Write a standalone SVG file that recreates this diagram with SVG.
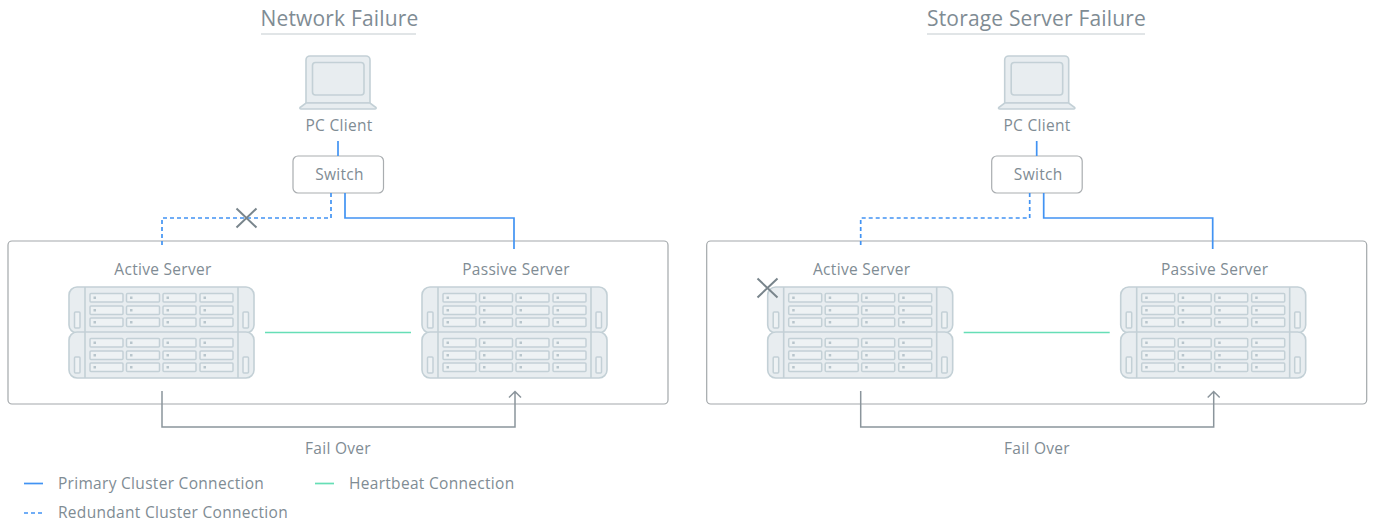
<svg xmlns="http://www.w3.org/2000/svg" xmlns:xlink="http://www.w3.org/1999/xlink" width="1375" height="522" viewBox="0 0 1375 522">
<style>
text{font-family:"Open Sans","Noto Sans",sans-serif;fill:#7f8c94;font-size:15.500px;letter-spacing:.3px}
.title{font-size:21px;letter-spacing:.18px}
.m{text-anchor:middle}
.rule{stroke:#e1e5e7;stroke-width:2;fill:none}
.box{fill:#fff;stroke:#a9adb0;stroke-width:1.2}
.panel{fill:none;stroke:#a3a8ab;stroke-width:1.2}
.hw{fill:#e8edf0;stroke:#c3d0d6;stroke-width:1.6}
.slot{fill:#eef2f4;stroke:#c3d0d6;stroke-width:1.5}
.dot{fill:#b8c5cc}
.p{fill:none;stroke:#4193f3;stroke-width:1.7}
.r{fill:none;stroke:#4193f3;stroke-width:1.7;stroke-dasharray:4 3}
.h{fill:none;stroke:#66deb6;stroke-width:1.7}
.f{fill:none;stroke:#8b959c;stroke-width:1.5}
.x{fill:none;stroke:#79858c;stroke-width:2}
</style>
<defs>
<g id="laptop">
<path class="hw" d="M306 103V60a4 4 0 0 1 4-4h56a4 4 0 0 1 4 4v43z"/>
<rect class="hw" x="312.500" y="62.500" width="51.500" height="32.500" rx="3"/>
<path class="hw" d="M306 103h64l6 4.500q.5 1.500-1 1.500h-74q-1.500 0-1-1.500z"/>
</g>
<g id="row">
<rect class="slot" x="90" y="0" width="33" height="8.500" rx="1"/><rect class="dot" x="93.500" y="3" width="2.500" height="2.500"/>
<rect class="slot" x="126.500" y="0" width="33" height="8.500" rx="1"/><rect class="dot" x="130" y="3" width="2.500" height="2.500"/>
<rect class="slot" x="163" y="0" width="33" height="8.500" rx="1"/><rect class="dot" x="166.500" y="3" width="2.500" height="2.500"/>
<rect class="slot" x="200" y="0" width="33" height="8.500" rx="1"/><rect class="dot" x="203.500" y="3" width="2.500" height="2.500"/>
</g>
<g id="unit">
<rect class="hw" x="69" y="0" width="185" height="46" rx="8"/>
<path class="hw" d="M85 0v46M238 0v46"/>
<rect class="slot" x="74.500" y="25" width="5.500" height="16" rx="1"/>
<rect class="slot" x="243" y="25" width="5.500" height="16" rx="1"/>
<use href="#row" y="6.500"/><use href="#row" y="19"/><use href="#row" y="31"/>
</g>
<g id="server">
<use href="#unit" y="287"/><use href="#unit" y="332"/>
</g>
<path id="cross" class="x" d="M-10-9.500 10 9.500M-10 9.500 10-9.500"/>
<path id="wires-f" d="M162 391V427H515V391.500M509 397.500 515 391.500 521 397.500" class="f"/>
</defs>

<g id="left-failure">
<text class="title m" x="339.500" y="26">Network Failure</text>
<path class="rule" d="M261 34H416"/>
</g>
<g id="panel-left"><rect class="panel" x="8" y="241" width="660" height="163" rx="4"/></g>
<g id="pc-left"><use href="#laptop"/><text class="m" x="339" y="131">PC Client</text></g>
<g id="switch-left"><rect class="box" x="293" y="156" width="90.500" height="37" rx="5"/><text class="m" x="339.500" y="180">Switch</text></g>
<g id="active-left"><text class="m" x="163" y="275">Active Server</text><use href="#server"/></g>
<g id="passive-left"><text class="m" x="516" y="275">Passive Server</text><use href="#server" x="353"/></g>

<g id="right-failure">
<text class="title m" x="1036.500" y="26">Storage Server Failure</text>
<path class="rule" d="M927 34H1145"/>
</g>
<g id="panel-right"><rect class="panel" x="706.700" y="241" width="660" height="163" rx="4"/></g>
<g id="pc-right"><use href="#laptop" x="698.700"/><text class="m" x="1037" y="131">PC Client</text></g>
<g id="switch-right"><rect class="box" x="991.700" y="156" width="90.500" height="37" rx="5"/><text class="m" x="1038.200" y="180">Switch</text></g>
<g id="active-right"><text class="m" x="861.700" y="275">Active Server</text><use href="#server" x="698.700"/></g>
<g id="passive-right"><text class="m" x="1214.700" y="275">Passive Server</text><use href="#server" x="1051.700"/></g>

<g id="connectors">
<path class="p" d="M338 141V156"/>
<path class="r" d="M331 193V218H162V248"/>
<path class="p" d="M345 193V218H514V249"/>
<path class="h" d="M265 332.500H411"/>
<use href="#wires-f"/>
<use href="#cross" transform="translate(246.500 218)"/>
<path class="p" d="M1036.700 141V156"/>
<path class="r" d="M1029.700 193V218H860.700V248"/>
<path class="p" d="M1043.700 193V218H1212.700V249"/>
<path class="h" d="M963.700 332.500H1109.700"/>
<use href="#wires-f" x="698.700"/>
<use href="#cross" transform="translate(767.500 288)"/>
</g>
<g id="fail-labels">
<text class="m" x="338" y="454">Fail Over</text>
<text class="m" x="1037" y="454">Fail Over</text>
</g>
<g id="legend">
<path class="p" d="M24 483.500H43"/><text x="58" y="489">Primary Cluster Connection</text>
<path class="h" d="M315 483.500H334"/><text x="349" y="489">Heartbeat Connection</text>
<path class="r" d="M24 513H43"/><text x="58" y="518">Redundant Cluster Connection</text>
</g>
</svg>
